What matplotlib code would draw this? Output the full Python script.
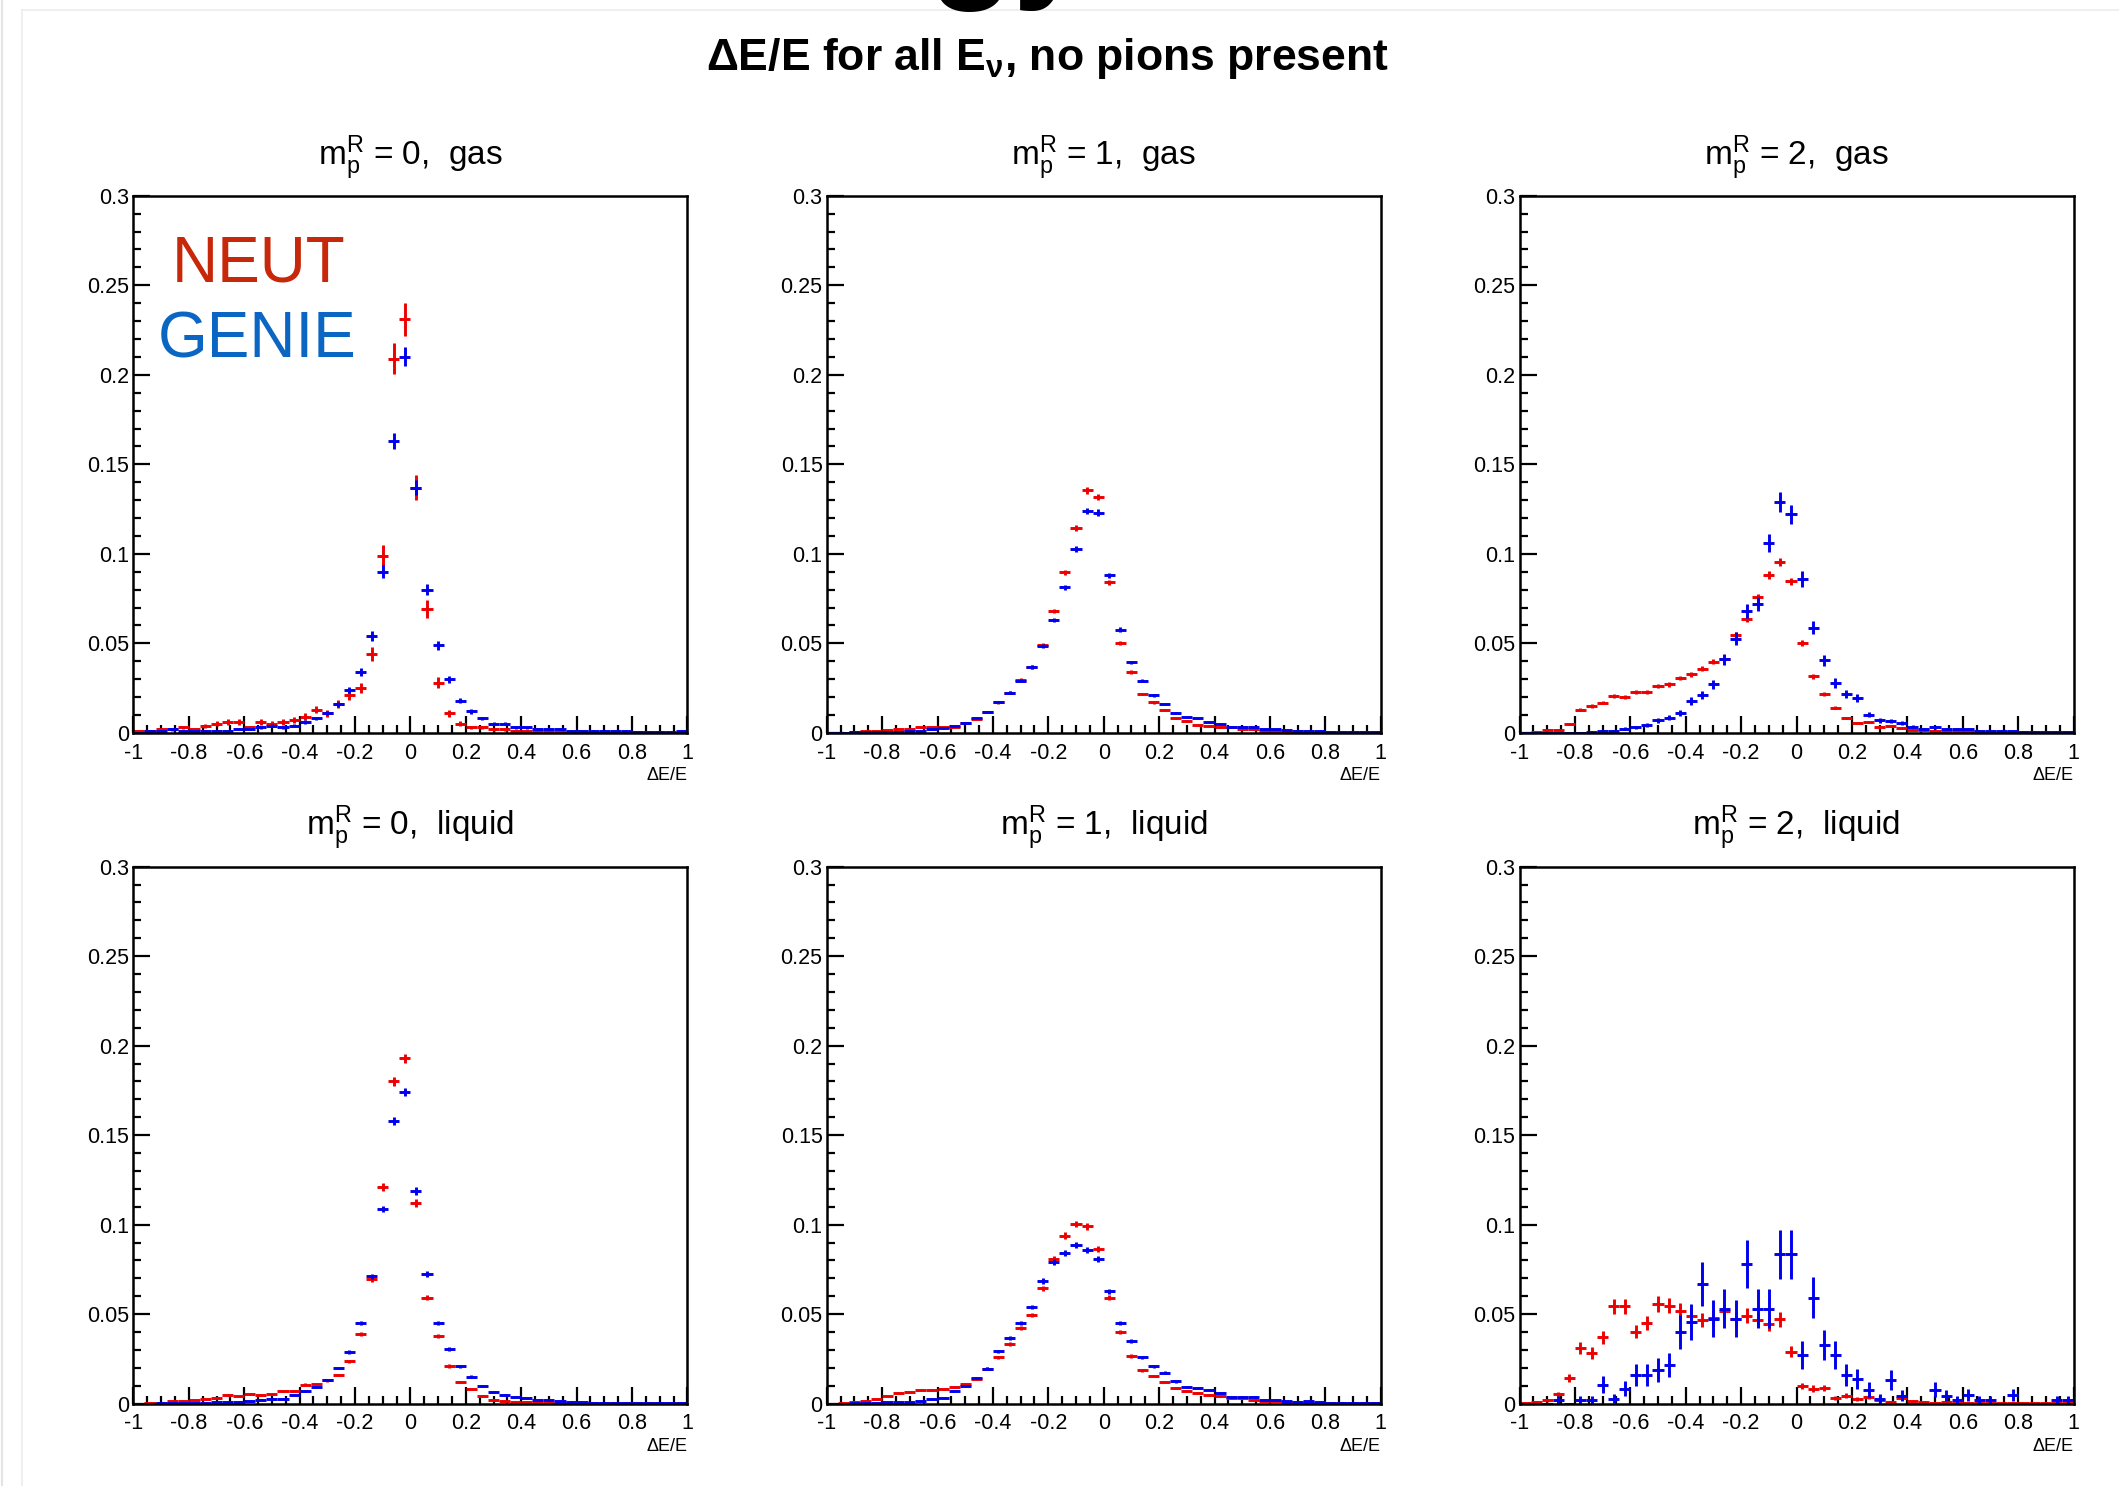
import numpy as np
import matplotlib
matplotlib.use("Agg")
import matplotlib.pyplot as plt
from matplotlib import ticker
from matplotlib.lines import Line2D

plt.rcParams['font.family'] = ['Liberation Sans', 'DejaVu Sans']
plt.rcParams['mathtext.fontset'] = 'custom'
plt.rcParams['mathtext.rm'] = 'Liberation Sans'
plt.rcParams['mathtext.it'] = 'Liberation Sans'
plt.rcParams['mathtext.bf'] = 'Liberation Sans:bold'
plt.rcParams['axes.unicode_minus'] = False

#######################################################
# Data: 50 bins of dE/E from -1 to 1 (width 0.04)
#######################################################
bin_edges = np.linspace(-1, 1, 51)
bin_centers = 0.5 * (bin_edges[:-1] + bin_edges[1:])

titles = ["m$_{p}^{R}$ = 0,  gas", "m$_{p}^{R}$ = 1,  gas", "m$_{p}^{R}$ = 2,  gas",
          "m$_{p}^{R}$ = 0,  liquid", "m$_{p}^{R}$ = 1,  liquid", "m$_{p}^{R}$ = 2,  liquid"]

neut_gas_0 = [0.001, 0.001, 0.002, 0.002, 0.003, 0.002, 0.004, 0.005, 0.006, 0.006,
              0.003, 0.006, 0.005, 0.006, 0.007, 0.009, 0.013, 0.011, 0.016, 0.021,
              0.025, 0.044, 0.099, 0.209, 0.231, 0.137, 0.069, 0.028, 0.011, 0.005,
              0.003, 0.003, 0.002, 0.002, 0.001, 0.001, 0.001, 0.001, 0.0005, 0.0005,
              0.0005, 0.0005, 0.0003, 0.0003, 0.0003, 0.0002, 0.0002, 0.0002, 0.0001, 0.0001]
genie_gas_0 = [0.0, 0.001, 0.001, 0.002, 0.001, 0.001, 0.001, 0.001, 0.001, 0.002,
               0.002, 0.003, 0.004, 0.003, 0.004, 0.006, 0.008, 0.011, 0.016, 0.024,
               0.034, 0.054, 0.090, 0.163, 0.210, 0.137, 0.080, 0.049, 0.030, 0.018,
               0.012, 0.008, 0.005, 0.005, 0.003, 0.003, 0.002, 0.002, 0.002, 0.001,
               0.001, 0.001, 0.001, 0.001, 0.001, 0.0005, 0.0005, 0.0005, 0.0005, 0.001]

neut_gas_1 = [0.0, 0.0, 0.0005, 0.001, 0.001, 0.0015, 0.002, 0.002, 0.003, 0.003,
              0.003, 0.0033, 0.0055, 0.0077, 0.0117, 0.017, 0.0225, 0.0296, 0.0367, 0.049,
              0.068, 0.0897, 0.1144, 0.1354, 0.1317, 0.084, 0.050, 0.034, 0.0216, 0.017,
              0.0128, 0.008, 0.0066, 0.0044, 0.004, 0.003, 0.003, 0.002, 0.002, 0.001,
              0.001, 0.001, 0.0008, 0.0006, 0.0005, 0.0005, 0.0004, 0.0003, 0.0003, 0.0003]
genie_gas_1 = [0.0, 0.0, 0.0005, 0.0005, 0.0005, 0.0005, 0.0005, 0.001, 0.001, 0.002,
               0.0025, 0.004, 0.0057, 0.0084, 0.0117, 0.0172, 0.0225, 0.029, 0.0367, 0.0486,
               0.063, 0.0813, 0.1027, 0.124, 0.123, 0.088, 0.0577, 0.0393, 0.029, 0.021,
               0.016, 0.011, 0.0088, 0.008, 0.006, 0.005, 0.003, 0.003, 0.003, 0.002,
               0.002, 0.0015, 0.001, 0.001, 0.0008, 0.0006, 0.0005, 0.0005, 0.0005, 0.0005]

neut_gas_2 = [0.0, 0.0007, 0.0018, 0.0018, 0.005, 0.0128, 0.015, 0.0168, 0.0205, 0.020,
              0.023, 0.023, 0.026, 0.027, 0.0305, 0.0327, 0.0358, 0.0398, 0.0415, 0.0548,
              0.0636, 0.0758, 0.088, 0.0954, 0.0846, 0.050, 0.0316, 0.0216, 0.0139, 0.0084,
              0.0055, 0.006, 0.0035, 0.004, 0.0027, 0.0018, 0.0015, 0.001, 0.001, 0.0008,
              0.0008, 0.0006, 0.0005, 0.0005, 0.0004, 0.0004, 0.0003, 0.0003, 0.0003, 0.0003]
genie_gas_2 = [0.0, 0.0, 0.0, 0.0, 0.0, 0.0, 0.0005, 0.001, 0.001, 0.0024,
               0.003, 0.0044, 0.007, 0.0084, 0.011, 0.0177, 0.021, 0.027, 0.041, 0.0526,
               0.068, 0.072, 0.106, 0.1288, 0.122, 0.0857, 0.0588, 0.0404, 0.0278, 0.0216,
               0.0194, 0.0102, 0.007, 0.0066, 0.0057, 0.0035, 0.002, 0.003, 0.002, 0.002,
               0.002, 0.001, 0.001, 0.001, 0.0008, 0.0005, 0.0005, 0.0005, 0.0005, 0.0005]

neut_liq_0 = [0.0, 0.0004, 0.0005, 0.0012, 0.0015, 0.0022, 0.0026, 0.0033, 0.0049, 0.004,
              0.0055, 0.0049, 0.0055, 0.0073, 0.0073, 0.0106, 0.011, 0.013, 0.016, 0.0236,
              0.0389, 0.0696, 0.121, 0.180, 0.1928, 0.112, 0.0592, 0.0376, 0.021, 0.012,
              0.0084, 0.0044, 0.0022, 0.0015, 0.001, 0.001, 0.0008, 0.0006, 0.0005, 0.0004,
              0.0003, 0.0003, 0.0002, 0.0002, 0.0002, 0.0001, 0.0001, 0.0001, 0.0001, 0.0001]
genie_liq_0 = [0.0, 0.0, 0.0002, 0.0003, 0.0004, 0.0005, 0.0006, 0.0008, 0.001, 0.001,
               0.0013, 0.0022, 0.0026, 0.0026, 0.0049, 0.0071, 0.0093, 0.0133, 0.0199, 0.0287,
               0.045, 0.0711, 0.1087, 0.158, 0.174, 0.1188, 0.0724, 0.045, 0.0305, 0.021,
               0.015, 0.0097, 0.0066, 0.0049, 0.0038, 0.0029, 0.0022, 0.0018, 0.0013, 0.001,
               0.0008, 0.0006, 0.0005, 0.0004, 0.0003, 0.0003, 0.0002, 0.0002, 0.0002, 0.0002]

neut_liq_1 = [0.0, 0.0003, 0.0008, 0.0015, 0.0027, 0.004, 0.006, 0.0066, 0.0077, 0.0077,
              0.0084, 0.0095, 0.011, 0.014, 0.0194, 0.0258, 0.0331, 0.0424, 0.0495, 0.0645,
              0.0806, 0.0939, 0.1003, 0.099, 0.0866, 0.0592, 0.0398, 0.0265, 0.0186, 0.0155,
              0.012, 0.0088, 0.0073, 0.0062, 0.0049, 0.004, 0.003, 0.003, 0.0022, 0.0015,
              0.0012, 0.001, 0.0008, 0.0006, 0.0005, 0.0004, 0.0003, 0.0003, 0.0002, 0.0002]
genie_liq_1 = [0.0, 0.0, 0.0003, 0.0005, 0.0005, 0.0008, 0.0008, 0.001, 0.0015, 0.0027,
               0.0033, 0.007, 0.0099, 0.0144, 0.0194, 0.0292, 0.0369, 0.045, 0.054, 0.0685,
               0.079, 0.0844, 0.0888, 0.0857, 0.081, 0.0627, 0.045, 0.0349, 0.0258, 0.0208,
               0.0172, 0.0124, 0.0095, 0.0088, 0.0077, 0.006, 0.0038, 0.0038, 0.0038, 0.0022,
               0.0022, 0.0015, 0.001, 0.0015, 0.0008, 0.0006, 0.0005, 0.0005, 0.0004, 0.0004]

neut_liq_2 = [0.0005, 0.001, 0.002, 0.0053, 0.0141, 0.0309, 0.0283, 0.0371, 0.0543, 0.0543,
              0.0402, 0.045, 0.0557, 0.0548, 0.0517, 0.049, 0.0468, 0.048, 0.0515, 0.047,
              0.049, 0.0468, 0.0446, 0.047, 0.029, 0.0099, 0.0084, 0.0088, 0.0033, 0.0044,
              0.0027, 0.0038, 0.0022, 0.0011, 0.0033, 0.0015, 0.001, 0.0005, 0.0008, 0.0005,
              0.0005, 0.0003, 0.0003, 0.0002, 0.0002, 0.0002, 0.0001, 0.0001, 0.0001, 0.0001]
genie_liq_2 = [0.0, 0.0, 0.0, 0.0022, 0.0, 0.0022, 0.0022, 0.0106, 0.0027, 0.0084,
               0.0159, 0.0159, 0.0188, 0.0216, 0.0402, 0.0457, 0.0669, 0.0475, 0.053, 0.0475,
               0.078, 0.053, 0.053, 0.0833, 0.0833, 0.027, 0.059, 0.0327, 0.027, 0.0159,
               0.0137, 0.0077, 0.0027, 0.0133, 0.0044, 0.0, 0.0, 0.0077, 0.0044, 0.0022,
               0.0049, 0.0022, 0.0022, 0.0, 0.0049, 0.0, 0.0, 0.0, 0.0022, 0.0022]

neut_series = [neut_gas_0, neut_gas_1, neut_gas_2, neut_liq_0, neut_liq_1, neut_liq_2]
genie_series = [genie_gas_0, genie_gas_1, genie_gas_2, genie_liq_0, genie_liq_1, genie_liq_2]

# effective number of events per histogram (sets the poisson error bars)
neut_events = [2800, 40000, 19000, 25000, 30000, 2800]
genie_events = [7500, 40000, 4300, 30000, 30000, 450]

xtick_vals = [-1, -0.8, -0.6, -0.4, -0.2, 0, 0.2, 0.4, 0.6, 0.8, 1]
xtick_labels = ["-1", "-0.8", "-0.6", "-0.4", "-0.2", "0", "0.2", "0.4", "0.6", "0.8", "1"]
ytick_vals = [0, 0.05, 0.1, 0.15, 0.2, 0.25, 0.3]
ytick_labels = ["0", "0.05", "0.1", "0.15", "0.2", "0.25", "0.3"]

NEUT_COLOR = '#ee0000'
GENIE_COLOR = '#0000ee'

#######################################################
# Figure
#######################################################
W, H = 2119, 1486
fig = plt.figure(figsize=(W / 100, H / 100), dpi=100)

# slide frame + clipped heading letters at the top
fig.add_artist(Line2D([22 / W, 1], [1 - 10 / H, 1 - 10 / H], color='#ececec', lw=1.2))
fig.add_artist(Line2D([22 / W, 22 / W], [0, 1 - 10 / H], color='#ececec', lw=1.2))
fig.add_artist(Line2D([2 / W, 2 / W], [0, 1], color='#e4e4e4', lw=1.5))
fig.text(928 / W, 1 + 18 / H, "gy", fontsize=100, fontweight='bold', ha='left', va='baseline')

fig.text(1047 / W, 1 - 70 / H, "ΔE/E for all E$_{\\mathbf{\\nu}}$, no pions present",
         fontsize=32, fontweight='bold', ha='center', va='baseline')

col_left = [133.4, 826.7, 1519.5]
row_top = [195.8, 866.6]
ax_w, ax_h = 554, 537

for i in range(6):
    r, c = divmod(i, 3)
    ax = fig.add_axes([col_left[c] / W, 1 - (row_top[r] + ax_h) / H, ax_w / W, ax_h / H])

    neut = np.array(neut_series[i])
    genie = np.array(genie_series[i])
    ax.errorbar(bin_centers, neut, xerr=0.02, yerr=np.sqrt(neut / neut_events[i]),
                fmt='none', ecolor=NEUT_COLOR, elinewidth=2.1, capsize=0)
    ax.errorbar(bin_centers, genie, xerr=0.02, yerr=np.sqrt(genie / genie_events[i]),
                fmt='none', ecolor=GENIE_COLOR, elinewidth=2.1, capsize=0)

    ax.set_xlim(-1, 1)
    ax.set_ylim(0, 0.3)
    ax.set_xticks(xtick_vals)
    ax.set_xticklabels(xtick_labels)
    ax.set_yticks(ytick_vals)
    ax.set_yticklabels(ytick_labels)
    ax.xaxis.set_minor_locator(ticker.MultipleLocator(0.05))
    ax.yaxis.set_minor_locator(ticker.MultipleLocator(0.01))
    ax.tick_params(which='major', direction='in', length=12, width=1.6, labelsize=15.5,
                   top=False, right=False)
    ax.tick_params(axis='x', which='major', pad=7)
    ax.tick_params(axis='y', which='major', pad=3)
    ax.tick_params(which='minor', direction='in', length=6, width=1.6, top=False, right=False)
    for sp in ax.spines.values():
        sp.set_linewidth(1.8)

    ax.text(1.0, -0.064, "ΔE/E", transform=ax.transAxes, ha='right', va='top', fontsize=13)
    ax.text(0.5, 1 + 31 / ax_h, titles[i], transform=ax.transAxes, ha='center',
            va='baseline', fontsize=24)

fig.text(172 / W, 1 - 282 / H, "NEUT", color='#c8280a', fontsize=46, ha='left', va='baseline')
fig.text(158 / W, 1 - 358 / H, "GENIE", color='#0a66c2', fontsize=46, ha='left', va='baseline')

fig.savefig("out.png", dpi=100)
